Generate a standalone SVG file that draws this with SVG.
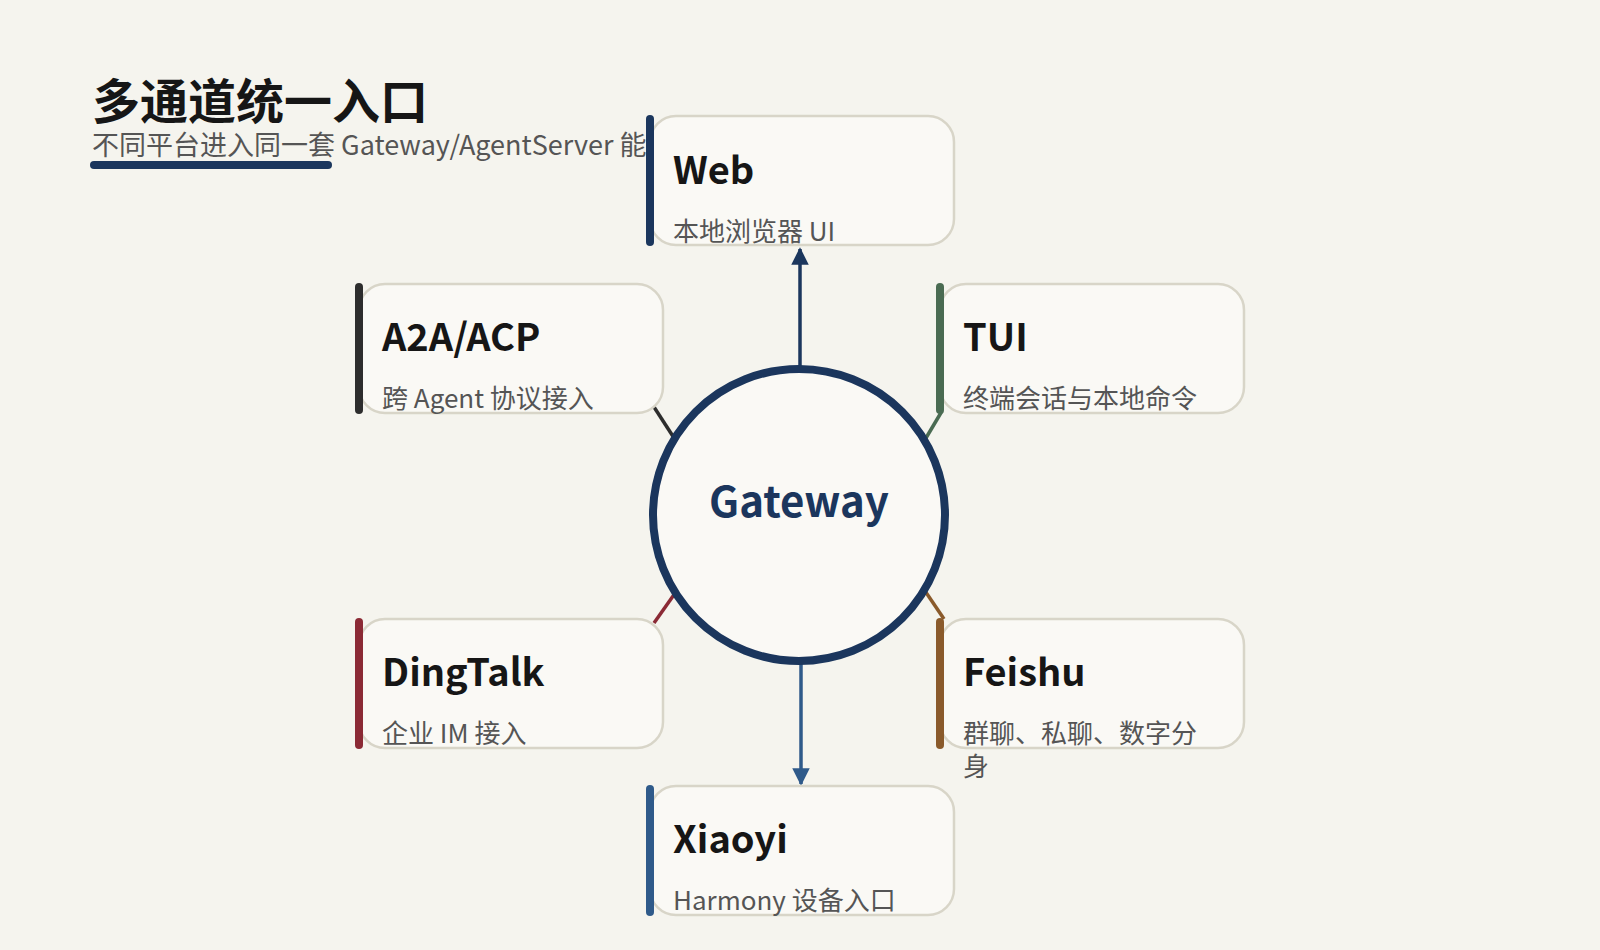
<svg xmlns="http://www.w3.org/2000/svg" width="1600" height="950" viewBox="0 0 1600 950">
<defs>
<style>
text{font-family:"Noto Sans CJK SC","Noto Sans",sans-serif}
.box{fill:#faf9f5;stroke:#d8d5c8;stroke-width:2.5}
.t{font-size:38px;font-weight:700;fill:#161616}
.s{font-size:26px;fill:#555}
.bar{stroke-width:8;stroke-linecap:round}
</style>
<marker id="ah" viewBox="0 0 10 10" refX="9" refY="5" markerWidth="5" markerHeight="5" orient="auto"><path d="M0,0 L10,5 L0,10 z" fill="#1b365d"/></marker>
<marker id="ah2" viewBox="0 0 10 10" refX="9" refY="5" markerWidth="5" markerHeight="5" orient="auto"><path d="M0,0 L10,5 L0,10 z" fill="#2f5a8a"/></marker>
</defs>
<rect width="1600" height="950" fill="#f5f4ee"/>
<text x="92" y="119" font-size="48" font-weight="700" fill="#161616">多通道统一入口</text>
<text x="92" y="155" font-size="27" fill="#555">不同平台进入同一套 Gateway/AgentServer 能</text>
<line x1="94" y1="165" x2="328" y2="165" stroke="#1b365d" stroke-width="8" stroke-linecap="round"/>
<g id="connectors" fill="none">
<line x1="800" y1="367" x2="800" y2="249" stroke="#1b365d" stroke-width="3.5" marker-end="url(#ah)"/>
<line x1="801" y1="663" x2="801" y2="784" stroke="#2f5a8a" stroke-width="3.5" marker-end="url(#ah2)"/>
<line x1="654" y1="407" x2="676" y2="441" stroke="#2d2d2d" stroke-width="3.5"/>
<line x1="942" y1="411" x2="923" y2="443" stroke="#4a6b52" stroke-width="3.5"/>
<line x1="654" y1="623" x2="678" y2="589" stroke="#8b2a35" stroke-width="3.5"/>
<line x1="944" y1="619" x2="923" y2="588" stroke="#8a5a2b" stroke-width="3.5"/>
</g>
<g id="gateway">
<circle cx="799" cy="515" r="146" fill="#faf9f5" stroke="#1b365d" stroke-width="8"/>
<text x="799" y="517" font-size="42" font-weight="700" fill="#1b365d" text-anchor="middle">Gateway</text>
</g>
<g id="web">
<rect class="box" x="650" y="116" width="304" height="129" rx="26"/>
<line class="bar" x1="650" y1="119" x2="650" y2="242" stroke="#1b365d"/>
<text class="t" x="673" y="184">Web</text>
<text class="s" x="673" y="241">本地浏览器 UI</text>
</g>
<g id="a2a">
<rect class="box" x="359" y="284" width="304" height="129" rx="26"/>
<line class="bar" x1="359" y1="287" x2="359" y2="410" stroke="#2d2d2d"/>
<text class="t" x="382" y="351">A2A/ACP</text>
<text class="s" x="382" y="408">跨 Agent 协议接入</text>
</g>
<g id="tui">
<rect class="box" x="940" y="284" width="304" height="129" rx="26"/>
<line class="bar" x1="940" y1="287" x2="940" y2="410" stroke="#4a6b52"/>
<text class="t" x="963" y="351">TUI</text>
<text class="s" x="963" y="408">终端会话与本地命令</text>
</g>
<g id="dingtalk">
<rect class="box" x="359" y="619" width="304" height="129" rx="26"/>
<line class="bar" x1="359" y1="622" x2="359" y2="745" stroke="#8b2a35"/>
<text class="t" x="382" y="686">DingTalk</text>
<text class="s" x="382" y="743">企业 IM 接入</text>
</g>
<g id="feishu">
<rect class="box" x="940" y="619" width="304" height="129" rx="26"/>
<line class="bar" x1="940" y1="622" x2="940" y2="745" stroke="#8a5a2b"/>
<text class="t" x="963" y="686">Feishu</text>
<text class="s" x="963" y="743">群聊、私聊、数字分</text>
<text class="s" x="963" y="776">身</text>
</g>
<g id="xiaoyi">
<rect class="box" x="650" y="786" width="304" height="129" rx="26"/>
<line class="bar" x1="650" y1="789" x2="650" y2="912" stroke="#2f5a8a"/>
<text class="t" x="673" y="853">Xiaoyi</text>
<text class="s" x="673" y="910">Harmony 设备入口</text>
</g>
</svg>
